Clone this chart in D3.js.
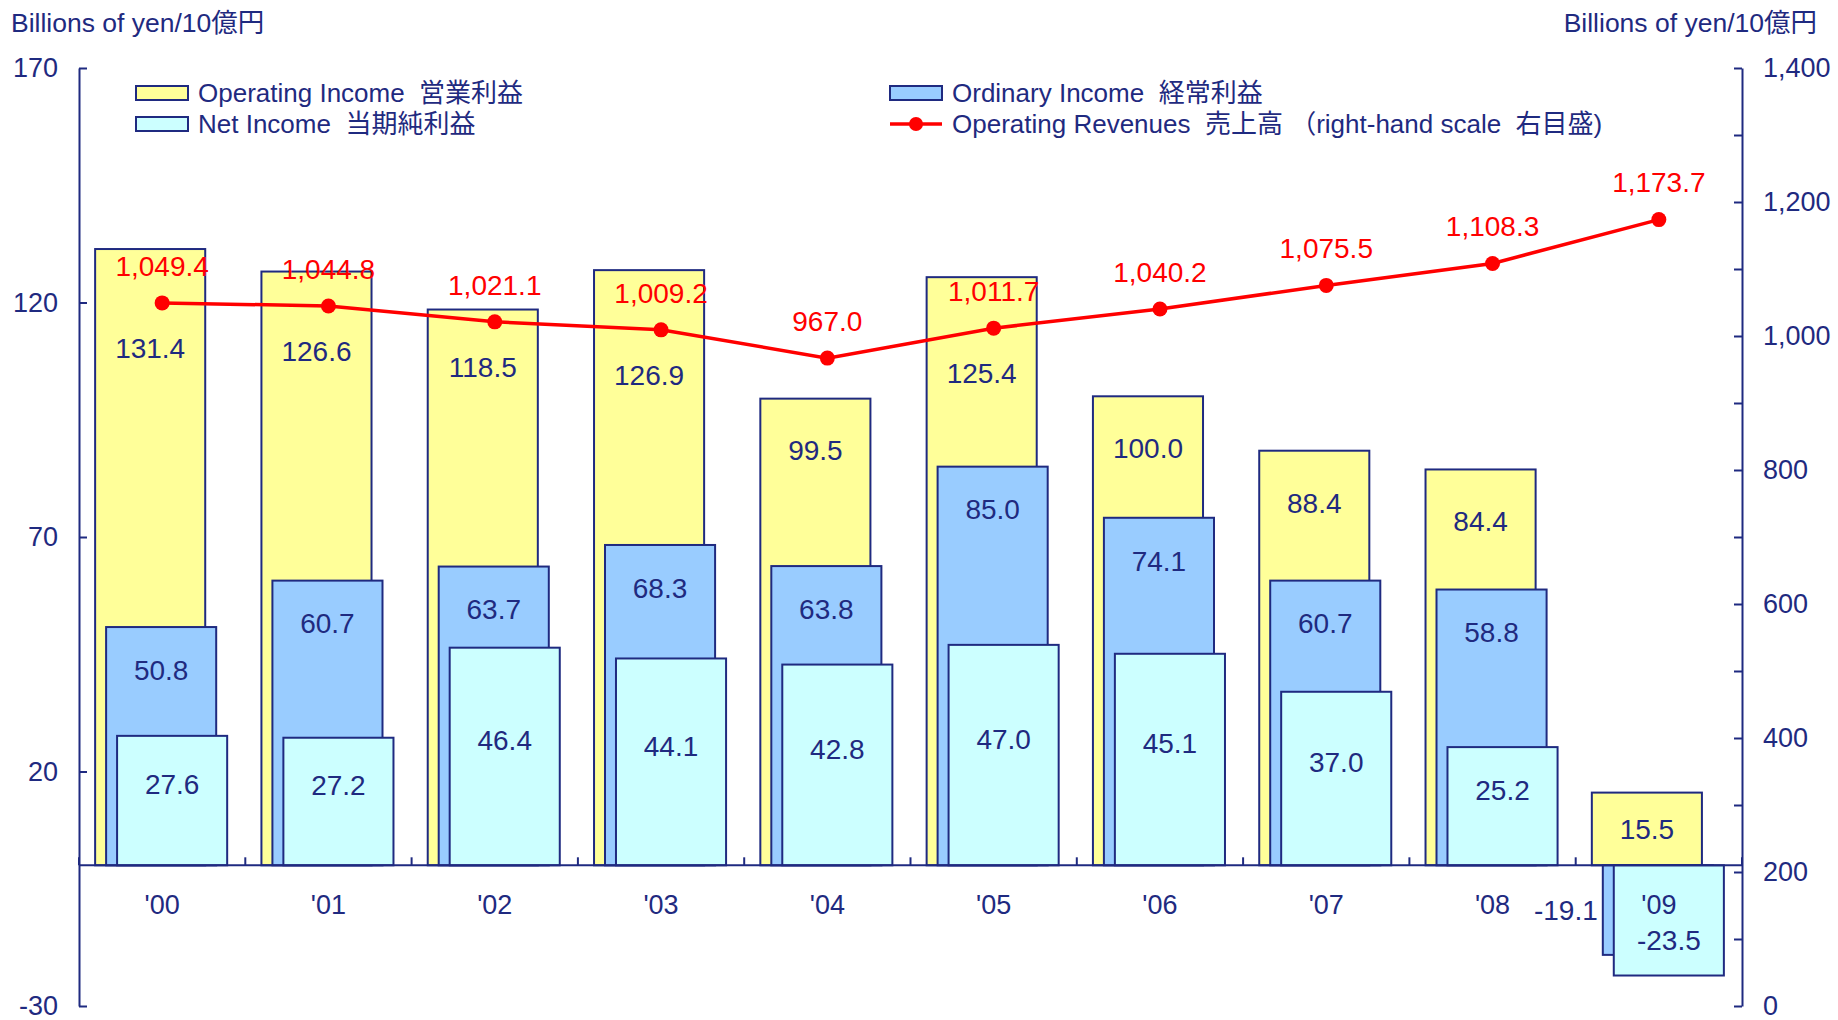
<!DOCTYPE html>
<html>
<head>
<meta charset="utf-8">
<script src="https://cdn.jsdelivr.net/npm/d3@7"></script>
<style>
  body { margin: 0; background: #fff; }
  svg { display: block; font-family: "Liberation Sans", Arial, "Noto Sans CJK JP", sans-serif; }
</style>
</head>
<body>
<svg id="chart"></svg>
<script>
// chart data
const years = ["'00", "'01", "'02", "'03", "'04", "'05", "'06", "'07", "'08", "'09"]
const operatingIncome = [131.4, 126.6, 118.5, 126.9, 99.5, 125.4, 100.0, 88.4, 84.4, 15.5]
const ordinaryIncome = [50.8, 60.7, 63.7, 68.3, 63.8, 85.0, 74.1, 60.7, 58.8, -19.1]
const netIncome = [27.6, 27.2, 46.4, 44.1, 42.8, 47.0, 45.1, 37.0, 25.2, -23.5]
const revenues = [1049.4, 1044.8, 1021.1, 1009.2, 967.0, 1011.7, 1040.2, 1075.5, 1108.3, 1173.7]
const leftTicks = [-30, 20, 70, 120, 170]
const rightTicks = [0, 100, 200, 300, 400, 500, 600, 700, 800, 900, 1000, 1100, 1200, 1300, 1400]
const rightLabels = [0, 200, 400, 600, 800, 1000, 1200, 1400]
const unitLabel = 'Billions of yen/10億円'
const legendItems = [
    {name: 'Operating Income  営業利益', color: '#ffff99', kind: 'bar'},
    {name: 'Ordinary Income  経常利益', color: '#99ccff', kind: 'bar'},
    {name: 'Net Income  当期純利益', color: '#ccffff', kind: 'bar'},
    {name: 'Operating Revenues  売上高 （right-hand scale  右目盛)', color: '#ff0000', kind: 'line'}
]

// canvas
let width = 1838
let height = 1020
let plotLeft = 79
let plotRight = 1742
let plotTop = 68
let plotBottom = 1006
let navy = '#1f2a80'
let red = '#ff0000'

let svg = d3.select('#chart')
    .attr('width', width)
    .attr('height', height)

svg.append('rect').attr('width', width).attr('height', height).attr('fill', '#fff')

// scales
let xScale = d3.scaleBand().domain(years).range([plotLeft, plotRight])
let yLeft = d3.scaleLinear().domain([-30, 170]).range([plotBottom, plotTop])
let yRight = d3.scaleLinear().domain([0, 1400]).range([plotBottom, plotTop])

let band = xScale.bandwidth()
let barW = band * 0.662
let barStep = band * 0.066
let barStart = band * 0.097
let zeroY = yLeft(0)

// bars: yellow at the back, then blue, cyan in front
let series = [
    {values: operatingIncome, color: '#ffff99'},
    {values: ordinaryIncome, color: '#99ccff'},
    {values: netIncome, color: '#ccffff'}
]

series.forEach((s, i) => {
    svg.append('g')
        .selectAll('rect')
        .data(s.values)
        .enter()
        .append('rect')
        .attr('x', (d, j) => xScale(years[j]) + barStart + i * barStep)
        .attr('y', d => yLeft(Math.max(d, 0)))
        .attr('width', barW)
        .attr('height', d => Math.abs(yLeft(d) - zeroY))
        .attr('fill', s.color)
        .attr('stroke', navy)
        .attr('stroke-width', 2)
})

// left axis, ticks pointing inward
let yAxisLeft = d3.axisLeft(yLeft)
    .tickValues(leftTicks)
    .tickSizeInner(-8)
    .tickSizeOuter(0)
    .tickPadding(21)
    .tickFormat(d => String(d))
svg.append('g')
    .attr('transform', 'translate(' + plotLeft + ',0)')
    .call(yAxisLeft)

// right axis
let yAxisRight = d3.axisRight(yRight)
    .tickValues(rightTicks)
    .tickSizeInner(-8)
    .tickSizeOuter(0)
    .tickPadding(21)
    .tickFormat(d => rightLabels.includes(d) ? d3.format(',')(d) : '')
svg.append('g')
    .attr('transform', 'translate(' + plotRight + ',0)')
    .call(yAxisRight)

svg.selectAll('.domain, .tick line')
    .attr('stroke', navy)
    .attr('stroke-width', 2)
svg.selectAll('.tick text')
    .attr('fill', navy)
    .style('font-size', '27px')
    .style('font-family', '"Liberation Sans", Arial, sans-serif')

// category axis along zero
let cat = svg.append('g')
cat.append('line')
    .attr('x1', plotLeft).attr('x2', plotRight)
    .attr('y1', zeroY).attr('y2', zeroY)
    .attr('stroke', navy).attr('stroke-width', 2)
cat.selectAll('line.ct')
    .data(years.concat(['end']))
    .enter()
    .append('line')
    .attr('class', 'ct')
    .attr('x1', d => d === 'end' ? plotRight : xScale(d))
    .attr('x2', d => d === 'end' ? plotRight : xScale(d))
    .attr('y1', zeroY).attr('y2', zeroY - 8)
    .attr('stroke', navy).attr('stroke-width', 2)

// value labels on the bars
let labelStyle = sel => sel
    .attr('fill', navy)
    .style('font-size', '28px')

let lineY = revenues.map(d => yRight(d))

svg.append('g').selectAll('text')
    .data(operatingIncome)
    .enter()
    .append('text')
    .attr('x', (d, j) => xScale(years[j]) + barStart + barW / 2)
    .attr('y', (d, j) => {
        let topY = yLeft(d)
        let h = zeroY - topY
        if (h < 120) return topY + h / 2
        return Math.max(topY + 52, lineY[j] + 45)
    })
    .attr('dy', '0.35em')
    .attr('text-anchor', 'middle')
    .text(d => d.toFixed(1))
    .call(labelStyle)

svg.append('g').selectAll('text')
    .data(ordinaryIncome)
    .enter()
    .append('text')
    .attr('x', (d, j) => {
        let x0 = xScale(years[j]) + barStart + barStep
        return d < 0 ? x0 - 5 : x0 + barW / 2
    })
    .attr('y', d => d < 0 ? (zeroY + yLeft(d)) / 2 : yLeft(d) + 43)
    .attr('dy', '0.35em')
    .attr('text-anchor', d => d < 0 ? 'end' : 'middle')
    .text(d => d.toFixed(1))
    .call(labelStyle)

svg.append('g').selectAll('text')
    .data(netIncome)
    .enter()
    .append('text')
    .attr('x', (d, j) => xScale(years[j]) + barStart + 2 * barStep + barW / 2)
    .attr('y', d => {
        let mid = (zeroY + yLeft(d)) / 2
        return d < 0 ? mid + 20 : mid - 16
    })
    .attr('dy', '0.35em')
    .attr('text-anchor', 'middle')
    .text(d => d.toFixed(1))
    .call(labelStyle)

// category labels (drawn over the bars)
cat.raise()
cat.selectAll('text')
    .data(years)
    .enter()
    .append('text')
    .attr('x', d => xScale(d) + band / 2)
    .attr('y', zeroY + 39)
    .attr('dy', '0.35em')
    .attr('text-anchor', 'middle')
    .attr('fill', navy)
    .style('font-size', '27px')
    .text(d => d)

// revenue line
let line = d3.line()
    .x((d, j) => xScale(years[j]) + band / 2)
    .y(d => yRight(d))

svg.append('path')
    .datum(revenues)
    .attr('d', line)
    .attr('fill', 'none')
    .attr('stroke', red)
    .attr('stroke-width', 3.5)

svg.append('g').selectAll('circle')
    .data(revenues)
    .enter()
    .append('circle')
    .attr('cx', (d, j) => xScale(years[j]) + band / 2)
    .attr('cy', d => yRight(d))
    .attr('r', 7.5)
    .attr('fill', red)

svg.append('g').selectAll('text')
    .data(revenues)
    .enter()
    .append('text')
    .attr('x', (d, j) => xScale(years[j]) + band / 2)
    .attr('y', d => yRight(d) - 37)
    .attr('dy', '0.35em')
    .attr('text-anchor', 'middle')
    .attr('fill', red)
    .style('font-size', '28px')
    .text(d => d3.format(',.1f')(d))

// unit titles
svg.append('text')
    .attr('x', 11).attr('y', 32)
    .attr('fill', navy)
    .style('font-size', '26.5px')
    .text(unitLabel)
svg.append('text')
    .attr('x', 1817).attr('y', 32)
    .attr('text-anchor', 'end')
    .attr('fill', navy)
    .style('font-size', '26.5px')
    .text(unitLabel)

// legend, two columns
let legend = svg.append('g')
let legendPos = [[136, 93], [890, 93], [136, 124], [890, 124]]
legendItems.forEach((item, i) => {
    let [lx, ly] = legendPos[i]
    let g = legend.append('g').attr('transform', 'translate(' + lx + ',' + ly + ')')
    if (item.kind === 'bar') {
        g.append('rect')
            .attr('x', 0).attr('y', -7)
            .attr('width', 52).attr('height', 14)
            .attr('fill', item.color)
            .attr('stroke', navy)
            .attr('stroke-width', 2)
    } else {
        g.append('line')
            .attr('x1', 0).attr('x2', 52)
            .attr('y1', 0).attr('y2', 0)
            .attr('stroke', item.color)
            .attr('stroke-width', 3.5)
        g.append('circle')
            .attr('cx', 26).attr('cy', 0).attr('r', 7)
            .attr('fill', item.color)
    }
    g.append('text')
        .attr('x', 62).attr('y', 0)
        .attr('dy', '0.35em')
        .attr('fill', navy)
        .style('font-size', '26px')
        .style('white-space', 'pre')
        .text(item.name)
})
</script>
</body>
</html>
